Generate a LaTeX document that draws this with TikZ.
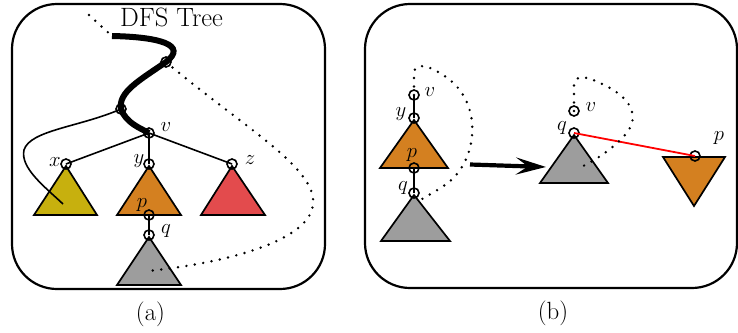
\documentclass[tikz,border=0pt]{standalone}
\usetikzlibrary{arrows.meta}
\definecolor{triOlive}{RGB}{199,176,14}
\definecolor{triOrange}{RGB}{212,128,32}
\definecolor{triRed}{RGB}{227,75,77}
\definecolor{triGray}{RGB}{157,157,157}
\begin{document}
\begin{tikzpicture}[x=1pt,y=-1pt,
  vtx/.style={circle,draw,line width=1.6pt,minimum size=10pt,inner sep=0pt},
  lbl/.style={inner sep=0pt,font=\huge},
  tri/.style={draw=black,line width=1.7pt,line join=miter},
  edge/.style={line width=1.6pt},
  dots/.style={line width=2.7pt,dash pattern=on 0pt off 8.5pt,line cap=round},
  frame/.style={draw,line width=2.2pt,rounded corners=45pt},
  sublabel/.style={inner sep=0pt,font=\Huge}]
\useasboundingbox (0,0) rectangle (738,332);

% ---------- panel (a)
\draw[frame] (12,4) rectangle (325,289);
\node[inner sep=0pt,font=\fontsize{26.5}{30}\selectfont] (title) at (171.5,17.5) {DFS Tree};

\draw[tri,fill=triOlive]  (66,166) -- (97,215) -- (34,215) -- cycle;
\draw[tri,fill=triOrange] (149,166) -- (181,215) -- (117,215) -- cycle;
\draw[tri,fill=triRed]    (232,166) -- (265,215) -- (201,215) -- cycle;
\draw[tri,fill=triGray]   (149,237) -- (181,285) -- (117,285) -- cycle;

\node[vtx] (a1) at (166,62) {};
\node[vtx] (a2) at (121,109) {};
\node[vtx] (v) at (149,133) {};
\node[vtx] (x) at (66,164) {};
\node[vtx] (y) at (149,164) {};
\node[vtx] (z) at (232,164) {};
\node[vtx] (p) at (149,215) {};
\node[vtx] (q) at (149,235) {};
\coordinate (root) at (112,36);
\coordinate (top) at (89,15);
\coordinate (xend) at (63,204);
\coordinate (gend) at (147,271);

\node[lbl] (lv) at (166,127) {$v$};
\node[lbl] (lx) at (55,162) {$x$};
\node[lbl] (ly) at (139,161) {$y$};
\node[lbl] (lz) at (250,160) {$z$};
\node[lbl] (lp) at (142,205) {$p$};
\node[lbl] (lq) at (166,231) {$q$};

\draw[edge] (v.center) -- (x.center);
\draw[edge] (v.center) -- (y.center);
\draw[edge] (v.center) -- (z.center);
\draw[edge] (p.center) -- (q.center);
\draw[edge] (a2.center) .. controls (80,127) and (30,130) .. (24,150)
  .. controls (20,168) and (45,187) .. (xend);

\draw[line width=6pt] (root) .. controls (160,37) and (188,45) .. (a1.center)
  .. controls (140,80) and (118,92) .. (a2.center)
  .. controls (126,123) and (140,128) .. (v.center);

\draw[dots] (top) -- (root);
\draw[dots] (a1.center) .. controls (240,125) and (318,168) .. (313,205)
  .. controls (308,245) and (210,265) .. (gend);

\node[sublabel] (capa) at (150.5,314) {(a)};

% ---------- panel (b)
\draw[frame] (365,4) rectangle (737,288);

\draw[tri,fill=triOrange] (414,120) -- (448,168) -- (380,168) -- cycle;
\draw[tri,fill=triGray]   (414,195) -- (450,241) -- (381,241) -- cycle;
\draw[tri,fill=triGray]   (574,135) -- (608,183) -- (540,183) -- cycle;
\draw[tri,fill=triOrange] (663,157) -- (725,157) -- (694,206) -- cycle;

\node[vtx] (v1) at (414,95) {};
\node[vtx] (y1) at (414,118) {};
\node[vtx] (p1) at (414,168) {};
\node[vtx] (q1) at (414,193) {};
\node[vtx] (v2) at (574,111) {};
\node[vtx] (q2) at (574,133) {};
\node[vtx] (p2) at (695,156) {};
\coordinate (d1end) at (417,203);
\coordinate (d2end) at (577,169);
\coordinate (arrS) at (470,164.5);
\coordinate (arrE) at (546,167);

\node[lbl] (lv1) at (430,92) {$v$};
\node[lbl] (ly1) at (401,114) {$y$};
\node[lbl] (lp1) at (412,155) {$p$};
\node[lbl] (lq1) at (403,188) {$q$};
\node[lbl] (lv2) at (591,107) {$v$};
\node[lbl] (lq2) at (562,128) {$q$};
\node[lbl] (lp2) at (719,138) {$p$};

\draw[edge] (v1.center) -- (y1.center);
\draw[edge] (p1.center) -- (q1.center);
\draw[red,line width=1.8pt] (q2.center) -- (p2.center);

\draw[dots] (v1.center) -- (414,74) .. controls (414,60) and (432,66) .. (450,80)
  .. controls (475,100) and (480,140) .. (460,170)
  .. controls (448,188) and (425,195) .. (d1end);
\draw[dots] (v2.center) -- (574,86) .. controls (574,74) and (586,76) .. (600,83)
  .. controls (630,96) and (642,116) .. (625,135)
  .. controls (610,152) and (590,163) .. (d2end);

\draw[line width=4.2pt,-{Stealth[length=30pt,width=17pt,inset=12pt]}] (arrS) -- (arrE);

\node[sublabel] (capb) at (553,313) {(b)};
\end{tikzpicture}
\end{document}
